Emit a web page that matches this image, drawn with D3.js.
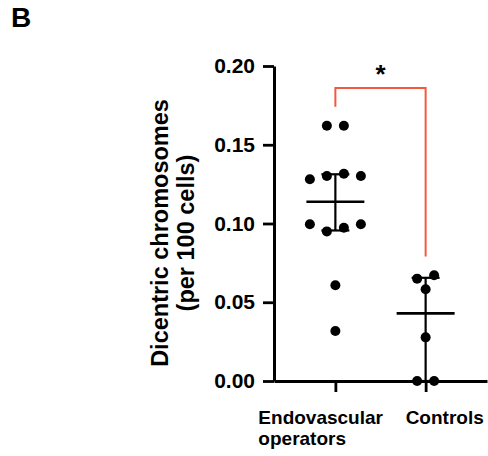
<!DOCTYPE html>
<html><head><meta charset="utf-8">
<script src="https://cdn.jsdelivr.net/npm/d3@7"></script>
<style>
body{margin:0;background:#fff}
svg{display:block}
text{font-family:"Liberation Sans",Arial,Helvetica,sans-serif;font-weight:bold;fill:#000}
</style>
</head><body><svg id="c" width="488" height="456"></svg>
<script>
// ---- data ----
const categories = ["Endovascular operators", "Controls"];
const categoryLabelLines = [["Endovascular", "operators"], ["Controls"]];
const endovascular = [0.1621, 0.1621, 0.1281, 0.1302, 0.1316, 0.1302, 0.0995, 0.0950, 0.0973, 0.0995, 0.0608, 0.0317];
const controls = [0.0650, 0.0671, 0.0582, 0.0277, 0.0, 0.0];
const yTicks = [0, 0.05, 0.10, 0.15, 0.20];
const yTickLabels = ["0.00", "0.05", "0.10", "0.15", "0.20"];
const yTitleLines = ["Dicentric chromosomes", "(per 100 cells)"];
const panelLabel = "B";
const sigLabel = "*";
const bracketTop = 0.186;
const bracketGap = 0.012;

const series = [endovascular, controls];

// ---- layout ----
const svg = d3.select("#c");
const y = d3.scaleLinear().domain([0, 0.2]).range([381, 66]);
const x = d3.scalePoint().domain(categories).range([274, 487]).padding(0.68);
const axisX = 274;

// y axis
const gy = svg.append("g").attr("transform", `translate(${axisX},0)`)
  .call(d3.axisLeft(y).tickValues(yTicks).tickFormat((d, i) => yTickLabels[i])
    .tickSize(11).tickSizeOuter(0).tickPadding(8));
gy.select(".domain").attr("stroke", "#000").attr("stroke-width", 3);
gy.selectAll(".tick line").attr("stroke", "#000").attr("stroke-width", 2.8);
gy.selectAll(".tick text").attr("font-size", 21).attr("font-family", null).attr("fill", "#000");

// x axis
const gx = svg.append("g").attr("transform", `translate(0,${y(0)})`)
  .call(d3.axisBottom(x).tickSize(11).tickSizeOuter(0).tickFormat(""));
gx.select(".domain").attr("stroke", "#000").attr("stroke-width", 3);
gx.selectAll(".tick line").attr("stroke", "#000").attr("stroke-width", 2.8);

// category labels
const labelDx = [-77, -20];
categories.forEach((c, i) => {
  const t = svg.append("text").attr("font-size", 19)
    .attr("x", x(c) + labelDx[i]).attr("y", 424);
  categoryLabelLines[i].forEach((ln, j) => {
    t.append("tspan").attr("x", x(c) + labelDx[i]).attr("dy", j === 0 ? 0 : 21).text(ln);
  });
});

// y title
const yt = svg.append("text").attr("font-size", 23.5).attr("text-anchor", "middle")
  .attr("transform", "translate(168,233) rotate(-90)");
yTitleLines.forEach((ln, j) => {
  yt.append("tspan").attr("x", 0).attr("dy", j === 0 ? 0 : 25.5).text(ln);
});

// panel label
svg.append("text").attr("x", 11).attr("y", 27).attr("font-size", 28).text(panelLabel);

// summary stats: median with interquartile range
function quant(sorted, p) {
  const n = sorted.length, pos = (n + 1) * p;
  const lo = Math.floor(pos), f = pos - lo;
  const a = sorted[Math.max(0, Math.min(n - 1, lo - 1))];
  const b = sorted[Math.max(0, Math.min(n - 1, lo))];
  return a + f * (b - a);
}
const meanHalf = 29, capHalf = 14;
series.forEach((vals, i) => {
  const cx = x(categories[i]);
  const s = vals.slice().sort(d3.ascending);
  const med = d3.median(s), q1 = quant(s, 0.25), q3 = quant(s, 0.75);
  const g = svg.append("g").attr("stroke", "#000").attr("fill", "none");
  g.append("line").attr("x1", cx).attr("x2", cx).attr("y1", y(q1)).attr("y2", y(q3)).attr("stroke-width", 2.2);
  [q1, q3].forEach(q => g.append("line").attr("x1", cx - capHalf).attr("x2", cx + capHalf)
    .attr("y1", y(q)).attr("y2", y(q)).attr("stroke-width", 2.2));
  g.append("line").attr("x1", cx - meanHalf).attr("x2", cx + meanHalf)
    .attr("y1", y(med)).attr("y2", y(med)).attr("stroke-width", 2.6);
});

// dots: group nearby values into rows, spread horizontally
const slot = 17, rowGap = 9;
function layoutRows(vals, cx) {
  const pts = []; let row = [];
  const flush = () => {
    row.forEach((v, k) => pts.push({ v, x: cx + (k - (row.length - 1) / 2) * slot }));
    row = [];
  };
  vals.forEach(v => {
    if (row.length && Math.abs(y(v) - y(row[0])) > rowGap) flush();
    row.push(v);
  });
  flush();
  return pts;
}
series.forEach((vals, i) => {
  const pts = layoutRows(vals, x(categories[i]));
  svg.append("g").selectAll("circle").data(pts).join("circle")
    .attr("cx", d => d.x).attr("cy", d => y(d.v)).attr("r", 5).attr("fill", "#000");
});

// significance bracket
const x0 = x(categories[0]), x1 = x(categories[1]);
const m0 = d3.max(endovascular) + bracketGap, m1 = d3.max(controls) + bracketGap;
svg.append("path")
  .attr("d", `M${x0},${y(m0)}V${y(bracketTop)}H${x1}V${y(m1)}`)
  .attr("fill", "none").attr("stroke", "#f4583e").attr("stroke-width", 2);
svg.append("text").attr("x", (x0 + x1) / 2).attr("y", 83).attr("text-anchor", "middle")
  .attr("font-size", 26).text(sigLabel);
</script>
</body></html>
